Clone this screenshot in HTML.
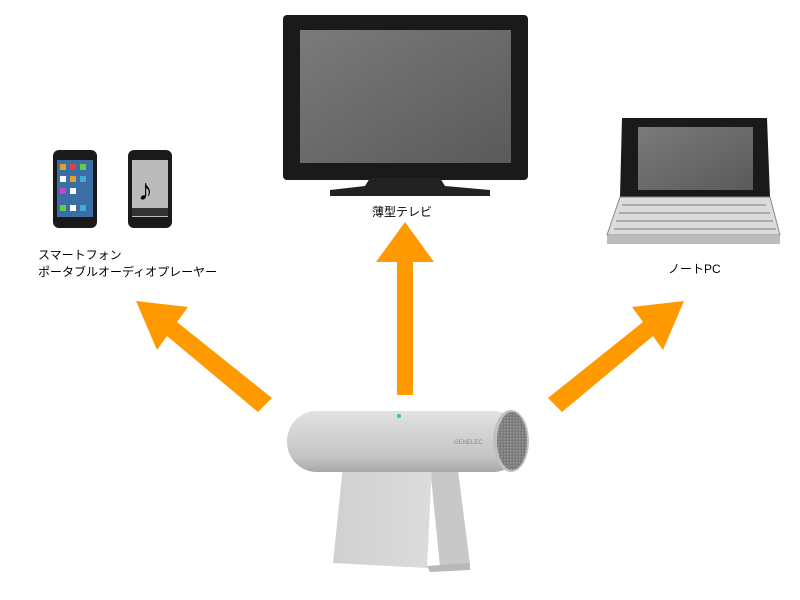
<!DOCTYPE html>
<html><head><meta charset="utf-8"><style>
html,body{margin:0;padding:0;background:#fff;}
svg{display:block;}
text{font-family:"Liberation Sans","Noto Sans CJK JP",sans-serif;font-size:12px;fill:#000;}
</style></head><body>
<svg width="800" height="600" viewBox="0 0 800 600" xmlns="http://www.w3.org/2000/svg">
<defs>
<linearGradient id="cyl" x1="0" y1="0" x2="0" y2="1">
<stop offset="0" stop-color="#e2e2e2"/><stop offset="0.35" stop-color="#d4d4d4"/><stop offset="0.75" stop-color="#c4c4c4"/><stop offset="1" stop-color="#a8a8a8"/></linearGradient>
<linearGradient id="stand" x1="0" y1="0" x2="1" y2="0">
<stop offset="0" stop-color="#d0d0d0"/><stop offset="1" stop-color="#dcdcdc"/></linearGradient>
<linearGradient id="scr" x1="0" y1="0" x2="1" y2="1">
<stop offset="0" stop-color="#7a7a7a"/><stop offset="1" stop-color="#5a5a5a"/></linearGradient>
<pattern id="mesh" width="3" height="3" patternUnits="userSpaceOnUse"><rect width="3" height="3" fill="#7a7a7a"/><rect width="1.5" height="1.5" fill="#9a9a9a"/></pattern>
</defs>
<!-- TV -->
<rect x="283" y="15" width="245" height="165" rx="4" fill="#1a1a1a"/>
<rect x="300" y="30" width="211" height="133" fill="url(#scr)"/>
<path d="M370 178 L440 178 L445 186 L490 190 L490 196 L330 196 L330 190 L365 186 Z" fill="#222"/>
<text x="372" y="216">薄型テレビ</text>
<!-- Phones -->
<rect x="53" y="150" width="44" height="78" rx="6" fill="#1a1a1a"/>
<rect x="57" y="160" width="36" height="57" fill="#3a6ea5"/>
<g fill="#e0a030"><rect x="60" y="164" width="6" height="6"/><rect x="70" y="164" width="6" height="6" fill="#d44"/><rect x="80" y="164" width="6" height="6" fill="#6c4"/><rect x="60" y="176" width="6" height="6" fill="#fff"/><rect x="70" y="176" width="6" height="6"/><rect x="80" y="176" width="6" height="6" fill="#4ad"/><rect x="60" y="188" width="6" height="6" fill="#c4c"/><rect x="70" y="188" width="6" height="6" fill="#fff"/><rect x="60" y="205" width="6" height="6" fill="#6c4"/><rect x="70" y="205" width="6" height="6" fill="#fff"/><rect x="80" y="205" width="6" height="6" fill="#4ad"/></g>
<rect x="128" y="150" width="44" height="78" rx="6" fill="#1a1a1a"/>
<rect x="132" y="160" width="36" height="57" fill="#bbb"/>
<text x="138" y="200" style="font-size:30px">♪</text>
<rect x="132" y="208" width="36" height="8" fill="#333"/>
<text x="38" y="259">スマートフォン</text>
<text x="38" y="276">ポータブルオーディオプレーヤー</text>
<!-- Laptop -->
<path d="M622 118 L767 118 L770 197 L620 197 Z" fill="#1a1a1a"/>
<rect x="638" y="127" width="115" height="63" fill="url(#scr)"/>
<path d="M620 197 L770 197 L780 235 L607 235 Z" fill="#dcdcdc" stroke="#888"/>
<rect x="607" y="235" width="173" height="9" fill="#bbb"/>
<g stroke="#777" stroke-width="1">
<line x1="622" y1="205" x2="766" y2="205"/><line x1="619" y1="213" x2="770" y2="213"/><line x1="616" y1="221" x2="773" y2="221"/><line x1="614" y1="229" x2="776" y2="229"/></g>
<text x="668" y="273">ノートPC</text>
<!-- Arrows -->
<g fill="#ff9900">
<polygon points="397,395 413,395 413,262 434,262 405,222 376,262 397,262"/>
<polygon points="258,412 272,398 177,322 188,307 136,301 157,350 167,336"/>
<polygon points="542,412 528,398 623,322 612,307 664,301 643,350 633,336" transform="translate(20,0)"/>
</g>
<!-- Speaker stand -->
<path d="M430 466 L458 470 L470 565 L440 567 Z" fill="#c8c8c8"/>
<path d="M343 466 L432 466 L427 568 L333 563 Z" fill="url(#stand)"/>
<path d="M427 566 L470 563 L470 570 L430 572 Z" fill="#b8b8b8"/>
<!-- Speaker body -->
<rect x="287" y="411" width="236" height="61" rx="30" fill="url(#cyl)"/>
<ellipse cx="511" cy="441" rx="18" ry="31" fill="#c0c0c0"/>
<ellipse cx="512" cy="441" rx="15" ry="29" fill="url(#mesh)"/>
<text x="454" y="444" style="font-size:6px;fill:#888">GENELEC</text>
<circle cx="399" cy="416" r="2" fill="#3c9"/>
</svg>
</body></html>
